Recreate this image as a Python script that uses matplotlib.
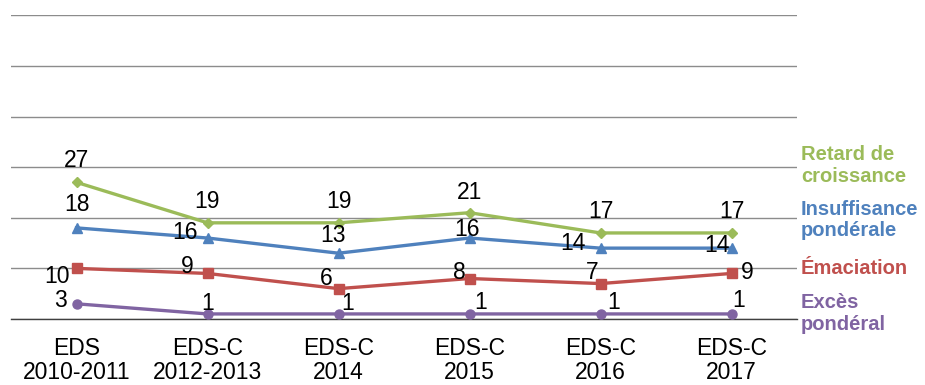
import matplotlib.pyplot as plt
import numpy as np

plt.rcParams['font.family'] = ['Liberation Sans', 'DejaVu Sans']

surveys = ['EDS\n2010-2011', 'EDS-C\n2012-2013', 'EDS-C\n2014',
           'EDS-C\n2015', 'EDS-C\n2016', 'EDS-C\n2017']
retard = [27, 19, 19, 21, 17, 17]
insuffisance = [18, 16, 13, 16, 14, 14]
emaciation = [10, 9, 6, 8, 7, 9]
exces = [3, 1, 1, 1, 1, 1]
series_names = ['Retard de\ncroissance', 'Insuffisance\npondérale',
                'Émaciation', 'Excès\npondéral']

colors = ['#9BBB59', '#4F81BD', '#C0504D', '#8064A2']
markers = ['D', '^', 's', 'o']
msizes = [5, 7, 6.5, 6.5]

# label offsets in pixels (dx, dy) for each point
offsets = [
    [(0, 22), (0, 21), (0, 21), (0, 20), (0, 21), (0, 21)],
    [(0, 23), (-23, 6), (-5, 18), (-2, 9), (-28, 5), (-15, 3)],
    [(-20, -8), (-20, 7), (-12, 10), (-10, 6), (-8, 11), (16, 1)],
    [(-16, 3), (0, 10), (9, 10), (11, 11), (13, 11), (7, 13)],
]

fig = plt.figure(figsize=(9.25, 3.85), dpi=100)
ax = fig.add_axes([11/925, 1-319/385, (797-11)/925, (319-15.3)/385])

x = np.arange(len(surveys))
all_series = [retard, insuffisance, emaciation, exces]
for i, vals in enumerate(all_series):
    ax.plot(x, vals, color=colors[i], linewidth=2.4, marker=markers[i],
            markersize=msizes[i], zorder=3)
    for j, v in enumerate(vals):
        dx, dy = offsets[i][j]
        ax.annotate(str(v), (x[j], v), xytext=(dx, dy),
                    textcoords='offset pixels', ha='center', va='center',
                    fontsize=16.5, color='black', zorder=4)

ax.set_xlim(-0.5, 5.5)
ax.set_ylim(0, 60)
ax.set_yticks(np.arange(0, 61, 10))
ax.yaxis.grid(True, color='#8c8c8c', linewidth=1)
ax.set_axisbelow(True)
ax.tick_params(axis='y', left=False, labelleft=False)
ax.tick_params(axis='x', length=0, pad=13, labelsize=16.5)
ax.set_xticks(x)
ax.set_xticklabels(surveys, linespacing=1.08)
for s in ['top', 'right', 'left']:
    ax.spines[s].set_visible(False)
ax.spines['bottom'].set_color('#404040')
ax.spines['bottom'].set_linewidth(1)

# series names on the right side
name_y = [165.5, 219.7, 269, 313.4]
for i, name in enumerate(series_names):
    fig.text(801/925, 1-name_y[i]/385, name, color=colors[i], fontsize=14.5,
             fontweight='bold', ha='left', va='center', linespacing=1.15)

fig.savefig('out.png', dpi=100)
